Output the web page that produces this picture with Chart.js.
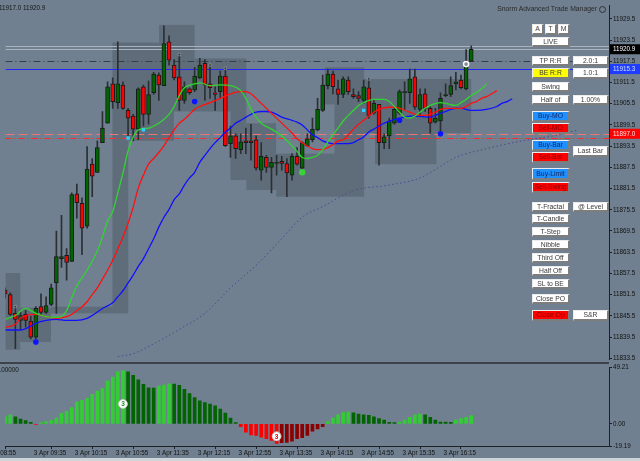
<!DOCTYPE html>
<html>
<head>
<meta charset="utf-8">
<script src="https://cdn.jsdelivr.net/npm/chart.js@4.4.1/dist/chart.umd.min.js"></script>
<style>
html, body { margin: 0; padding: 0; }
body { width: 640px; height: 461px; overflow: hidden; position: relative; background: #708090; font-family: 'Liberation Sans', Arial, sans-serif; }
#mainBox { position: absolute; left: 0; top: 0; width: 640px; height: 365px; }
#oscBox { position: absolute; left: 0; top: 362px; width: 640px; height: 99px; }
.sep { position: absolute; left: 0; top: 362px; width: 609px; height: 2px; background: #3c434c; }
.foot { position: absolute; left: 0; top: 458px; width: 640px; height: 3px; background: #cfd4d9; }
.txt { position: absolute; font-size: 6.3px; color: #151515; white-space: nowrap; }
.btn { position: absolute; box-sizing: border-box; background: #fff; border-style: solid; border-width: 1px 2px 2px 1px;
       border-color: #ececec #7d7d7d #7d7d7d #ececec; font-size: 6.8px; color: #3a3a3a; text-align: center; white-space: nowrap; overflow: hidden; }
.blue { background: #1e90ff; color: #14245a; }
.red { background: #ff0000; color: #800000; }
.yel { background: #ffff00; }
.icon { position: absolute; left: 599px; top: 6px; width: 5px; height: 5px; border: 1px solid #333; border-radius: 50%; }
</style>
</head>
<body>
<div id="mainBox"><canvas id="main" width="640" height="365"></canvas></div>
<div id="oscBox"><canvas id="osc" width="640" height="99"></canvas></div>
<div class="sep"></div>
<div class="foot"></div>
<div class="txt" style="left:-1px;top:4px">11917.0 11920.9</div>
<div class="txt" style="right:43px;top:5px;color:#2a2a2a;font-size:6.8px">Snorm Advanced Trade Manager</div>
<div class="icon"></div>
<div class="txt" style="left:-4px;top:366px">0.00000</div>
<div id="panel"></div>
<script>
// 5 minute bars, 3 Apr 09:10 .. 16:45 (index 0..91)
const opens = [11852.8,11851.5,11846.2,11844.2,11845.9,11844.0,11839.5,11848.1,11846.5,11848.7,
  11854.8,11861.7,11862.6,11860.9,11880.0,11877.3,11870.9,11888.4,11886.1,11894.5,
  11900.0,11911.1,11905.8,11910.8,11903.6,11902.0,11898.3,11910.3,11902.5,11908.6,
  11913.6,11910.6,11923.0,11916.4,11913.1,11906.4,11909.7,11909.4,11912.8,11916.9,
  11911.1,11908.6,11908.9,11913.3,11894.2,11896.4,11892.5,11895.0,11895.0,11895.3,
  11886.7,11890.3,11887.5,11888.6,11889.2,11888.6,11885.3,11890.6,11887.3,11893.6,
  11895.3,11898.1,11903.6,11910.6,11913.9,11909.7,11908.1,11912.2,11908.1,11907.8,
  11906.4,11910.0,11902.8,11905.3,11894.5,11896.4,11900.0,11902.8,11908.6,11908.6,
  11913.1,11903.9,11908.3,11904.2,11900.3,11900.6,11907.8,11908.1,11911.1,11912.2,
  11909.7,11917.5];
const highs = [11853.4,11852.0,11847.8,11846.5,11847.0,11845.4,11848.1,11851.7,11850.9,11854.5,
  11869.5,11873.9,11864.5,11880.3,11882.8,11878.9,11893.4,11890.0,11895.0,11903.3,
  11911.7,11912.8,11923.0,11911.7,11904.2,11902.5,11910.0,11910.8,11911.9,11914.4,
  11914.2,11927.5,11924.7,11918.0,11919.7,11911.7,11910.0,11915.8,11918.3,11918.0,
  11916.4,11910.3,11914.7,11915.6,11899.2,11897.0,11897.0,11898.6,11899.7,11896.4,
  11894.5,11890.9,11890.3,11890.9,11890.6,11890.0,11891.4,11893.1,11894.7,11897.0,
  11901.4,11907.0,11913.6,11915.3,11914.7,11912.2,11913.1,11913.1,11909.7,11908.9,
  11912.2,11912.8,11906.4,11905.3,11897.0,11901.4,11904.7,11909.4,11911.7,11915.3,
  11915.3,11909.7,11909.7,11904.7,11904.2,11908.6,11911.1,11913.1,11914.4,11913.6,
  11920.8,11921.9];
const lows = [11850.6,11845.6,11836.2,11841.7,11842.3,11839.0,11839.0,11845.6,11846.2,11848.4,
  11846.2,11859.2,11855.6,11860.9,11873.1,11862.8,11870.3,11879.2,11886.1,11894.5,
  11900.0,11904.2,11904.2,11903.9,11895.9,11895.0,11895.3,11899.2,11899.7,11908.1,
  11906.4,11910.6,11916.4,11912.2,11903.6,11905.6,11908.1,11908.9,11912.5,11906.4,
  11907.0,11903.6,11907.2,11893.4,11890.3,11890.0,11891.4,11891.4,11889.5,11886.7,
  11883.9,11886.1,11880.3,11885.3,11886.7,11879.2,11883.9,11888.1,11886.1,11893.4,
  11894.7,11897.8,11903.3,11909.7,11908.3,11905.3,11907.2,11908.1,11907.0,11906.1,
  11905.6,11901.4,11902.5,11888.1,11892.8,11892.8,11899.7,11902.5,11903.9,11905.6,
  11903.9,11902.0,11903.3,11897.2,11900.0,11897.0,11907.5,11907.5,11909.4,11909.7,
  11909.4,11917.5];
const closes = [11851.7,11845.9,11844.5,11845.6,11844.2,11839.5,11847.6,11846.5,11848.4,11853.4,
  11862.3,11862.3,11860.6,11879.8,11877.5,11870.3,11887.0,11885.0,11893.1,11898.6,
  11910.3,11906.1,11911.1,11904.2,11901.4,11898.3,11909.7,11902.5,11908.1,11913.9,
  11910.8,11922.5,11917.8,11912.8,11906.4,11910.3,11908.6,11913.3,11916.4,11910.8,
  11910.0,11908.1,11913.3,11893.6,11896.4,11892.8,11894.7,11894.5,11894.5,11887.3,
  11890.6,11887.5,11888.9,11888.9,11888.6,11885.9,11890.6,11888.4,11894.5,11895.6,
  11898.3,11903.9,11910.8,11913.9,11910.3,11908.1,11912.5,11908.9,11907.5,11907.0,
  11910.3,11902.2,11905.6,11894.5,11896.1,11900.6,11903.9,11908.9,11908.9,11912.5,
  11904.5,11908.1,11904.2,11900.0,11901.4,11907.0,11908.1,11910.6,11911.7,11910.0,
  11916.4,11920.9];

// alligator style averages (bar index, price)
const lipsIdx = [0,2,4,6,8,10,11,12,13,14,16,18,19,20,21,22,23,24,25,26,28,30,31,32,33,34,35,37,38,40,
  42,44,46,47,48,49,50,52,54,56,57,58,59,60,61,62,63,64,65,66,67,68,69,70,72,74,75,76,77,78,
  79,80,81,82,83,85,86,88,89,90,91,92,93,94];
const lipsVal = [11844.5,11845.6,11847.6,11846.2,11845.3,11845.1,11845.3,11847.0,11850.6,11854.0,
  11858.4,11863.9,11867.8,11872.3,11875.0,11880.3,11885.9,11892.2,11896.1,11898.1,
  11898.6,11900.0,11901.1,11902.5,11904.7,11907.8,11910.0,11911.1,11911.4,11910.6,
  11910.8,11910.6,11909.2,11907.0,11903.9,11901.7,11900.0,11898.3,11896.4,11893.6,
  11892.0,11890.3,11890.0,11890.3,11890.9,11892.5,11894.7,11896.7,11898.6,11900.6,
  11902.2,11903.6,11905.0,11905.8,11906.7,11906.7,11906.1,11904.7,11903.1,11901.7,
  11901.4,11902.0,11903.1,11904.2,11905.0,11905.8,11905.6,11905.0,11905.8,11906.7,
  11907.8,11908.6,11909.7,11911.1];
const teethIdx = [0,2,3,4,6,8,10,12,13,14,15,16,17,18,19,20,21,22,23,24,25,26,27,28,29,30,31,32,33,34,
  35,36,37,38,40,42,44,46,47,48,49,50,52,54,56,57,58,60,61,62,63,64,65,66,67,68,69,70,71,72,
  73,75,76,77,79,81,82,83,84,85,86,89,90,91,92,93,94,95,96];
const teethVal = [11842.3,11843.1,11844.8,11845.6,11845.9,11845.3,11844.8,11845.3,11845.9,11847.0,
  11848.1,11849.5,11851.5,11853.4,11855.9,11858.4,11861.2,11864.5,11867.8,11871.7,
  11876.2,11881.7,11885.3,11888.4,11890.0,11891.7,11893.6,11895.9,11898.1,11900.0,
  11901.1,11902.5,11903.9,11904.7,11905.8,11907.0,11908.3,11908.9,11908.9,11908.3,
  11907.0,11905.6,11902.8,11900.0,11897.2,11895.6,11894.5,11892.8,11892.5,11892.5,
  11893.1,11893.9,11895.0,11895.3,11896.7,11898.3,11899.7,11900.8,11902.0,11903.1,
  11903.9,11904.5,11904.5,11904.2,11903.1,11902.2,11902.2,11902.5,11903.1,11903.9,
  11904.2,11904.2,11904.7,11905.6,11906.1,11907.0,11907.5,11908.3,11909.2];
const jawIdx = [0,3,5,6,8,10,12,14,16,17,19,21,22,23,24,25,26,27,28,29,30,31,32,33,34,35,36,37,38,39,
  40,41,42,43,44,45,46,47,48,49,50,51,52,53,54,56,57,58,59,60,61,62,63,64,67,68,69,70,71,72,
  73,74,75,76,78,79,80,83,84,85,86,87,88,89,91,92,94,96,97,98,99];
const jawVal = [11841.5,11841.5,11842.6,11843.4,11844.2,11844.5,11844.2,11844.2,11844.8,11845.6,
  11847.6,11849.2,11850.9,11852.6,11854.8,11857.0,11859.5,11861.7,11864.5,11867.3,
  11870.6,11873.4,11875.6,11878.4,11880.0,11882.5,11884.5,11886.1,11888.9,11890.9,
  11892.8,11894.5,11895.9,11897.5,11898.6,11900.0,11900.8,11901.7,11902.5,11903.1,
  11903.3,11903.3,11903.1,11902.5,11901.7,11900.8,11900.3,11899.5,11898.1,11896.7,
  11895.9,11895.0,11894.5,11894.2,11894.2,11894.5,11895.3,11896.1,11897.5,11898.3,
  11899.2,11900.0,11900.6,11901.1,11901.7,11902.0,11902.0,11901.7,11902.2,11902.8,
  11903.3,11903.9,11904.2,11904.2,11903.6,11903.6,11903.9,11904.7,11905.6,11906.1,
  11906.9];
const slowIdx = [22,25,29,34,39,44,49,54,58,62,68,75,81,85,88,94,101,107,112];
const slowVal = [11834.0,11834.8,11837.6,11841.7,11846.2,11853.4,11859.8,11867.3,11873.4,11876.4,
  11880.9,11882.5,11884.5,11887.8,11890.3,11892.8,11895.0,11896.4,11898.1];

// markers
const cyanIdx = [24, 27, 70];
const cyanVal = [11895.8, 11898.1, 11903.6];
const blueIdx = [6, 37, 77, 85];
const blueVal = [11838.1, 11906.1, 11900.8, 11897.0];
const greenIdx = [58];
const greenVal = [11886.1];
const fracIdx = [2, 34, 40, 43, 71];
const fracVal = [11848.1, 11919.4, 11916.4, 11915.5, 11912.5];
const entryIdx = [90];
const entryVal = [11916.7];

// shaded range boxes: from bar, to bar, top price, bottom price
const boxFrom = [0.05, 2.95, 8.95, 20.95, 20.95, 30.05, 30.05, 37.0, 44.0, 47.1, 52.9, 62.4, 70.1, 72.2, 64.3];
const boxTo   = [2.95, 8.95, 20.95, 24.05, 30.05, 37.0, 32.95, 47.1, 47.1, 52.9, 64.3, 70.1, 91.0, 84.2, 70.1];
const boxHigh = [11857.6, 11847.8, 11848.1, 11895.0, 11922.8, 11927.8, 11903.3, 11918.3, 11903.3, 11900.0, 11891.4, 11915.8, 11912.5, 11897.2, 11905.3];
const boxLow  = [11835.9, 11838.1, 11846.2, 11846.2, 11895.0, 11903.3, 11895.0, 11903.3, 11883.9, 11881.1, 11879.2, 11905.3, 11897.2, 11888.4, 11879.2];

// horizontal levels: ask, bid, target, stop, entry, entry 2
const levelPrices = [11921.7, 11920.9, 11917.7, 11915.3, 11897.0, 11895.9];
const tagPrices = [11920.9, 11915.3, 11897.0];

const priceTicks = [11833.5,11839.5,11845.5,11851.5,11857.5,11863.5,11869.5,11875.5,11881.5,
  11887.5,11893.5,11899.5,11905.5,11911.5,11917.5,11923.5,11929.5];

// oscillator
const aoVals = [6.3,8.0,6.3,4.3,2.9,1.4,-0.3,1.1,2.0,2.9,
  5.2,9.2,10.9,14.3,19.2,20.6,22.3,25.8,28.7,30.9,
  37.2,40.7,45.3,46.4,45.3,42.4,38.4,34.4,31.5,31.2,
  32.9,33.8,34.9,34.6,33.5,30.1,26.4,22.9,20.1,18.6,
  17.2,15.8,12.9,9.4,5.2,1.1,-2.3,-7.2,-9.5,-10.0,
  -11.5,-12.9,-14.3,-17.0,-16.4,-16.0,-15.0,-12.9,-12.0,-10.0,
  -6.3,-4.3,-2.3,2.0,5.2,8.0,10.0,10.3,9.7,8.6,
  8.0,7.4,6.3,4.6,3.4,1.4,1.2,1.7,3.4,5.7,
  8.0,8.6,8.0,5.7,3.4,1.7,1.6,1.5,3.4,4.6,
  5.7,7.2];
const sigIdx = [23, 53];
const sigVal = [17.4, -10.7];
const oscTicks = [-19.19, 0, 49.21];

const timeTickIdx = [-4.8, 5, 13, 21, 29, 37, 45, 53, 61, 69, 77, 85];
const timeLabels = ['3 Apr 08:55','3 Apr 09:35','3 Apr 10:15','3 Apr 10:55','3 Apr 11:35','3 Apr 12:15',
  '3 Apr 12:55','3 Apr 13:35','3 Apr 14:15','3 Apr 14:55','3 Apr 15:35','3 Apr 16:15'];

const X_MIN = 0.05, X_MAX = 117.9;
const AXIS = '#1d2126';

Chart.defaults.font.family = "'Liberation Sans', Arial, sans-serif";
Chart.defaults.font.size = 6.3;
Chart.defaults.color = '#111';

const idx = opens.map((_, i) => i);
const pts = (xs, ys) => xs.map((v, k) => ({x: v, y: ys[k]}));
const noPad = s => { s.paddingLeft = 0; s.paddingRight = 0; s.paddingTop = 0; s.paddingBottom = 0; };

const levelStyle = [
  {c: '#a9b3bd', d: []},
  {c: '#a9b3bd', d: []},
  {c: '#383e46', d: [7, 3, 1, 3]},
  {c: '#2424ff', d: []},
  {c: '#ef7575', d: [9, 4]},
  {c: '#ff2a2a', d: [6, 3, 1, 3]}
];
const tagStyle = [['#000', '#fff'], ['#1f3cff', '#cfe0ff'], ['#ff0000', '#ffe0e0']];

const mainOverlay = {
  id: 'mainOverlay',
  beforeDatasetsDraw(chart) {
    const {ctx, chartArea: a, scales: {x, y}} = chart;
    ctx.save();
    ctx.beginPath();
    ctx.rect(a.left, a.top, a.width, a.height);
    ctx.clip();
    ctx.fillStyle = 'rgba(0,0,0,0.15)';
    boxFrom.forEach((f, k) => {
      const x0 = x.getPixelForValue(f), x1 = x.getPixelForValue(boxTo[k]);
      const y0 = y.getPixelForValue(boxHigh[k]), y1 = y.getPixelForValue(boxLow[k]);
      ctx.fillRect(x0, y0, x1 - x0, y1 - y0);
    });
    levelPrices.forEach((p, k) => {
      const py = Math.round(y.getPixelForValue(p)) + 0.5;
      ctx.strokeStyle = levelStyle[k].c;
      ctx.setLineDash(levelStyle[k].d);
      ctx.lineWidth = 1;
      ctx.beginPath();
      ctx.moveTo(a.left, py);
      ctx.lineTo(a.right, py);
      ctx.stroke();
    });
    ctx.restore();
  },
  afterDraw(chart) {
    const {ctx, chartArea: a, scales: {y}} = chart;
    ctx.save();
    ctx.font = "6.3px 'Liberation Sans', Arial, sans-serif";
    ctx.textBaseline = 'middle';
    tagPrices.forEach((p, k) => {
      const py = y.getPixelForValue(p);
      ctx.fillStyle = tagStyle[k][0];
      ctx.fillRect(a.right + 1, py - 5, 31, 10);
      ctx.fillStyle = tagStyle[k][1];
      ctx.fillText(p.toFixed(1), a.right + 4, py + 0.5);
    });
    ctx.restore();
  }
};

new Chart(document.getElementById('main'), {
  type: 'bar',
  data: {
    datasets: [
      {type: 'line', data: pts(entryIdx, entryVal), showLine: false, pointStyle: 'circle', pointRadius: 2.6,
       borderColor: '#ffffff', borderWidth: 1.4, backgroundColor: 'rgba(150,160,170,0.8)'},
      {type: 'line', data: pts(fracIdx, fracVal), showLine: false, pointStyle: 'rect', pointRadius: 1.7,
       borderColor: '#a0a8b0', borderWidth: 0.6, backgroundColor: '#2b3036'},
      {type: 'line', data: pts(cyanIdx, cyanVal), showLine: false, pointStyle: 'rect', pointRadius: 2.4,
       borderWidth: 0, backgroundColor: '#33ccff'},
      {type: 'line', data: pts(blueIdx, blueVal), showLine: false, pointStyle: 'circle', pointRadius: 2.8,
       borderWidth: 0, backgroundColor: '#0a14ff'},
      {type: 'line', data: pts(greenIdx, greenVal), showLine: false, pointStyle: 'circle', pointRadius: 3.2,
       borderWidth: 0, backgroundColor: '#3ad13a'},
      {type: 'line', data: pts(lipsIdx, lipsVal), borderColor: '#32d232', borderWidth: 1.3, pointRadius: 0,
       cubicInterpolationMode: 'monotone'},
      {type: 'line', data: pts(teethIdx, teethVal), borderColor: '#ff1010', borderWidth: 1.3, pointRadius: 0,
       cubicInterpolationMode: 'monotone'},
      {type: 'line', data: pts(jawIdx, jawVal), borderColor: '#1010ff', borderWidth: 1.3, pointRadius: 0,
       cubicInterpolationMode: 'monotone'},
      {type: 'line', data: pts(slowIdx, slowVal), borderColor: '#4a4a8e', borderWidth: 1, borderDash: [1.5, 2.5],
       pointRadius: 0, cubicInterpolationMode: 'monotone'},
      {data: idx.map(i => ({x: i, y: [opens[i], closes[i]]})),
       backgroundColor: idx.map(i => closes[i] >= opens[i] ? '#006400' : '#ff0000'),
       borderColor: '#1a1a1a', borderWidth: 1, borderSkipped: false, barThickness: 4, grouped: false},
      {data: idx.map(i => ({x: i, y: [lows[i], highs[i]]})),
       backgroundColor: '#2b2f33', borderWidth: 0, barThickness: 1, grouped: false}
    ]
  },
  options: {
    responsive: false,
    animation: false,
    events: [],
    layout: {padding: {top: 2, bottom: 2, left: 0, right: 0}},
    plugins: {legend: {display: false}, tooltip: {enabled: false}},
    scales: {
      x: {type: 'linear', display: false, min: X_MIN, max: X_MAX, offset: false},
      y: {
        type: 'linear', position: 'right', min: 11833.13, max: 11933.3,
        afterFit: s => { s.width = 31; noPad(s); },
        afterBuildTicks: s => { s.ticks = priceTicks.map(v => ({value: v})); },
        ticks: {padding: 1, callback: v => Number(v).toFixed(1)},
        grid: {drawOnChartArea: false, tickLength: 3, color: AXIS},
        border: {display: true, color: AXIS}
      }
    }
  },
  plugins: [mainOverlay]
});

const sigText = {
  id: 'sigText',
  afterDatasetsDraw(chart) {
    const {ctx, scales: {x, y}} = chart;
    ctx.save();
    ctx.font = "bold 6.5px 'Liberation Sans', Arial, sans-serif";
    ctx.textAlign = 'center';
    ctx.textBaseline = 'middle';
    sigIdx.forEach((v, k) => {
      ctx.fillStyle = sigVal[k] >= 0 ? '#1f8f1f' : '#e00000';
      ctx.fillText('3', x.getPixelForValue(v), y.getPixelForValue(sigVal[k]) + 0.5);
    });
    ctx.restore();
  }
};

const aoColor = aoVals.map((v, i) => {
  const up = i === 0 || v >= aoVals[i - 1];
  if (v >= 0) return up ? '#32cd32' : '#006400';
  return up ? '#8b0000' : '#ff0000';
});

new Chart(document.getElementById('osc'), {
  type: 'bar',
  data: {
    datasets: [
      {type: 'line', data: pts(sigIdx, sigVal), showLine: false, pointStyle: 'circle', pointRadius: 4.4,
       backgroundColor: '#ffffff', borderColor: '#c9c9c9', borderWidth: 1},
      {data: idx.map(i => ({x: i, y: aoVals[i]})), backgroundColor: aoColor, borderWidth: 0,
       barThickness: 3, grouped: false}
    ]
  },
  options: {
    responsive: false,
    animation: false,
    events: [],
    layout: {padding: {top: 4, bottom: 0, left: 0, right: 0}},
    plugins: {legend: {display: false}, tooltip: {enabled: false}},
    scales: {
      x: {
        type: 'linear', min: X_MIN, max: X_MAX, offset: false, position: 'bottom',
        afterFit: s => { s.height = 15; noPad(s); },
        afterBuildTicks: s => { s.ticks = timeTickIdx.map(v => ({value: v})); },
        ticks: {autoSkip: false, maxRotation: 0, align: 'start', labelOffset: 3, padding: 0,
                callback: (v, k) => timeLabels[k]},
        grid: {drawOnChartArea: false, tickLength: 3, color: AXIS},
        border: {display: true, color: AXIS}
      },
      y: {
        type: 'linear', position: 'right', min: -19.19, max: 49.21,
        afterFit: s => { s.width = 31; noPad(s); },
        afterBuildTicks: s => { s.ticks = oscTicks.map(v => ({value: v})); },
        ticks: {padding: 1, callback: v => Number(v).toFixed(2)},
        grid: {drawOnChartArea: false, tickLength: 3, color: AXIS},
        border: {display: true, color: AXIS}
      }
    }
  },
  plugins: [sigText]
});

// trade manager panel
const buttons = [
  ['A', 532, 24, 12, 11, ''], ['T', 545, 24, 12, 11, ''], ['M', 558, 24, 12, 11, ''],
  ['LIVE', 532, 37, 38, 10, ''],
  ['TP R:R', 532, 56, 38, 10, ''], ['2.0:1', 573, 56, 36, 10, ''],
  ['BE R:R', 532, 68, 38, 11, 'yel'], ['1.0:1', 573, 68, 36, 11, ''],
  ['Swing', 532, 82, 38, 10, ''],
  ['Half of', 532, 95, 38, 10, ''], ['1.00%', 573, 95, 36, 10, ''],
  ['Buy-MO', 532, 111, 38, 11, 'blue'], ['Sell-MO', 532, 123, 38, 11, 'red'],
  ['Buy-Bar', 532, 140, 38, 11, 'blue'], ['Sell-Bar', 532, 152, 38, 11, 'red'],
  ['Last Bar', 573, 146, 36, 11, ''],
  ['Buy-Limit', 532, 168, 38, 12, 'blue'], ['Sell-Swing', 532, 182, 38, 11, 'red'],
  ['T-Fractal', 532, 202, 38, 10, ''], ['@ Level', 573, 202, 36, 10, ''],
  ['T-Candle', 532, 214, 38, 10, ''], ['T-Step', 532, 227, 38, 10, ''],
  ['Nibble', 532, 240, 38, 10, ''], ['Third Off', 532, 253, 38, 10, ''],
  ['Half Off', 532, 266, 38, 10, ''], ['SL to BE', 532, 279, 38, 10, ''],
  ['Close PO', 532, 294, 38, 10, ''],
  ['Close Op', 532, 310, 38, 11, 'red'], ['S&R', 573, 310, 36, 11, '']
];
const panel = document.getElementById('panel');
buttons.forEach(([t, l, tp, w, h, cls]) => {
  const b = document.createElement('div');
  b.className = 'btn ' + cls;
  b.textContent = t;
  b.style.left = l + 'px';
  b.style.top = tp + 'px';
  b.style.width = w + 'px';
  b.style.height = h + 'px';
  b.style.lineHeight = (h - 3) + 'px';
  panel.appendChild(b);
});
</script>
</body>
</html>
